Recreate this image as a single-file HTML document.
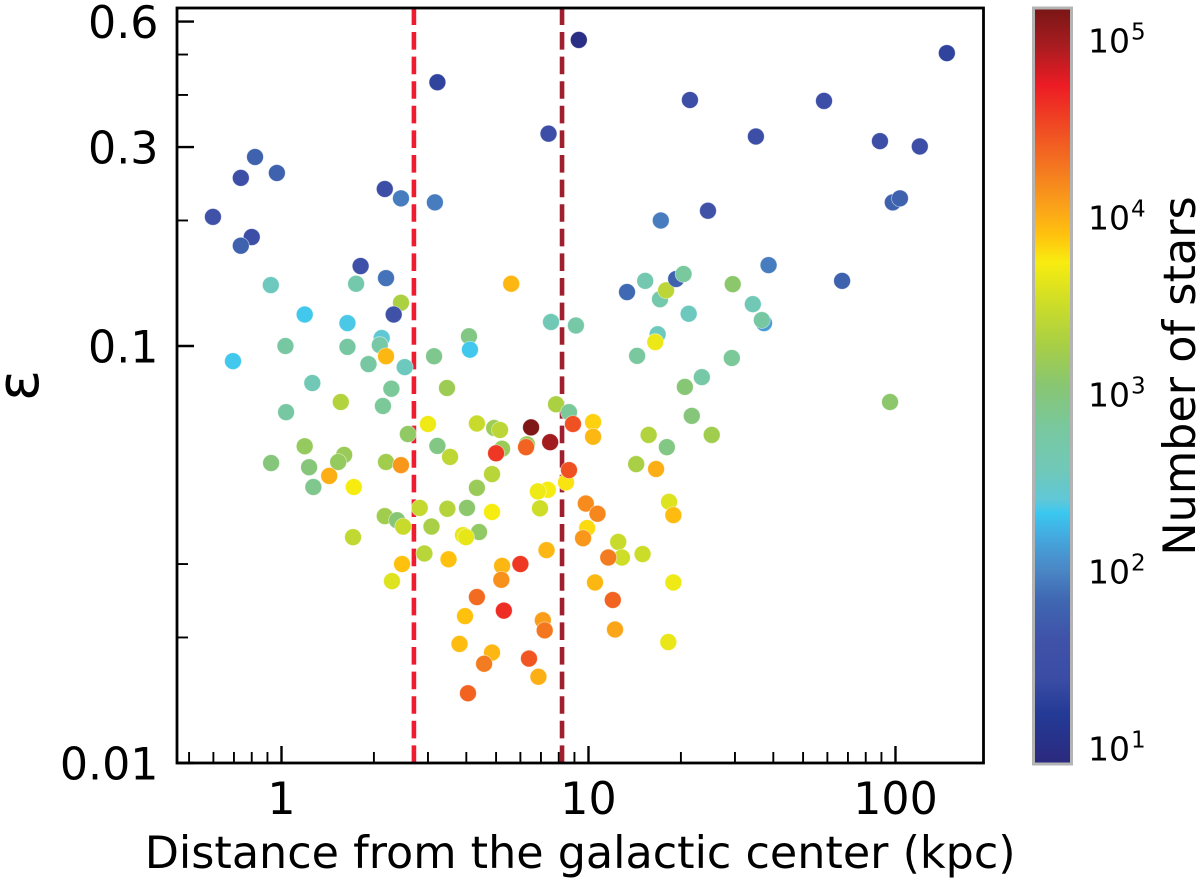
<!DOCTYPE html>
<html lang="en">
<head>
<meta charset="utf-8">
<title>Epsilon vs distance from the galactic center</title>
<style>
html,body{margin:0;padding:0;background:#fff;width:1200px;height:882px;overflow:hidden}
svg{display:block}
text{font-family:"DejaVu Sans","Liberation Sans",sans-serif;fill:#000}
</style>
</head>
<body>
<svg id="chart" width="1200" height="882" viewBox="0 0 1200 882" xmlns="http://www.w3.org/2000/svg">
  <defs>
    <linearGradient id="cbar-gradient" x1="0" y1="1" x2="0" y2="0"></linearGradient>
  </defs>
  <rect x="0" y="0" width="1200" height="882" fill="#ffffff"/>
  <g id="ref-lines"></g>
  <g id="points"></g>
  <g id="ticks"></g>
  <rect x="177" y="8" width="806.5" height="755" fill="none" stroke="#000" stroke-width="2.8"/>
  <g id="tick-labels"></g>
  <text x="144.7" y="868" font-size="44.45">Distance from the galactic center (kpc)</text>
  <text x="0" y="0" font-size="58" text-anchor="middle" transform="translate(38 385.5) rotate(-90)">ε</text>
  <rect x="1033.5" y="8" width="38" height="756" fill="none" stroke="#b4b4b4" stroke-width="3"/>
  <rect x="1035" y="9.5" width="35" height="753" fill="url(#cbar-gradient)"/>
  <g id="cbar-labels"></g>
  <text x="0" y="0" font-size="44.5" text-anchor="middle" transform="translate(1195 376) rotate(-90)">Number of stars</text>
</svg>
<script>
// ---- data ----
const distanceKpc = [9.3,3.22,147,21.4,58.5,7.41,35.1,89,120,0.82,0.737,0.966,0.598,0.8,0.737,2.17,2.45,3.16,24.5,17.2,98,103.4,1.81,2.19,0.923,1.75,5.6,2.45,2.32,1.19,1.64,2.12,2.09,2.19,1.64,1.03,1.92,2.52,3.14,4.08,4.11,1.26,2.28,3.46,1.56,2.14,1.035,7.84,8.64,8.9,3.0,4.33,4.93,5.15,2.58,6.5,7.5,6.3,6.26,3.22,5.23,5.0,3.54,1.19,1.6,1.53,1.23,1.43,2.19,2.45,1.27,1.72,4.85,4.33,8.45,8.64,7.37,6.84,6.95,2.82,3.47,4.02,4.85,2.17,2.38,2.49,3.08,4.4,3.9,3.99,1.71,2.92,3.5,2.47,5.23,6.0,7.3,9.8,10.7,9.9,9.6,10.35,10.35,15.7,18,14.3,16.6,18.3,18.9,21.7,25.2,20.6,23.4,29.3,14.4,16.8,16.5,37.3,36.7,7.55,9.1,12.5,12.85,15,11.6,2.29,5.2,4.33,3.96,5.3,7.1,7.2,3.8,4.85,4.57,6.4,6.87,4.05,10.5,18.9,12,12.2,18.2,13.35,15.3,17.1,17.9,19.3,20.4,21.2,29.5,34.3,38.6,67,96,0.925,0.695];
const epsilon = [0.542,0.429,0.504,0.389,0.387,0.323,0.318,0.31,0.301,0.284,0.253,0.26,0.204,0.1825,0.174,0.238,0.226,0.221,0.211,0.2,0.221,0.226,0.1555,0.1455,0.14,0.141,0.141,0.127,0.119,0.119,0.1135,0.1045,0.1005,0.0945,0.0995,0.1,0.0905,0.089,0.0945,0.1055,0.098,0.0815,0.079,0.0793,0.0734,0.0718,0.0694,0.0725,0.0694,0.065,0.065,0.0652,0.0636,0.0629,0.0615,0.0638,0.0588,0.0581,0.0572,0.0576,0.0567,0.0553,0.0542,0.0575,0.0548,0.0527,0.0512,0.0488,0.0527,0.0518,0.0459,0.0459,0.0493,0.0457,0.0471,0.0504,0.0452,0.0448,0.0408,0.0409,0.0407,0.0409,0.04,0.0391,0.0382,0.0369,0.0369,0.0358,0.0352,0.0348,0.0348,0.0318,0.0308,0.03,0.0297,0.03,0.0324,0.0419,0.0396,0.0366,0.0346,0.0657,0.0606,0.0612,0.0572,0.0521,0.0507,0.0423,0.0393,0.068,0.0612,0.0798,0.0842,0.0936,0.0947,0.1067,0.1022,0.1135,0.1154,0.1142,0.112,0.0339,0.0311,0.0317,0.0311,0.0273,0.0275,0.025,0.0225,0.0232,0.022,0.0208,0.0193,0.0184,0.0173,0.0178,0.0161,0.0147,0.0271,0.0271,0.0246,0.0209,0.0195,0.1347,0.1433,0.1295,0.136,0.1448,0.1488,0.1195,0.1407,0.126,0.1563,0.1433,0.0734,0.0524,0.092];
const numberOfStars = [10,20,20,30,30,30,30,30,30,60,30,60,40,30,60,30,90,90,40,90,60,60,35,80,350,500,9000,2000,40,220,230,260,550,9000,600,600,600,350,800,900,220,400,700,1600,2200,700,600,2000,700,30000,5000,3000,1600,2500,1300,140000,100000,1500,24000,900,1500,40000,2600,1400,1500,1400,1000,10000,1700,13000,800,5500,2400,1500,6000,30000,5500,5000,3300,2800,2300,1200,5500,1700,1100,3000,1900,1300,4500,4500,2700,2400,8000,8000,9000,40000,9000,15000,16000,6500,13000,7000,9000,2200,900,1900,10000,4000,8500,1000,1700,1100,550,700,650,350,4800,130,600,400,550,3000,3300,3200,18000,4000,14000,22000,8000,45000,12000,19000,8500,9000,18000,28000,10000,24000,9000,5000,24000,11000,4600,70,450,500,2500,60,650,350,1200,400,90,60,1200,1000,220];
const referenceDistances = [2.7, 8.2];
const referenceColors = ["#ee1c2e", "#a01f2e"];
const xMajorTicks = [1, 10, 100];
const xMinorTicks = [0.5,0.6,0.7,0.8,0.9,2,3,4,5,6,7,8,9,20,30,40,50,60,70,80,90];
const xTickLabels = ["1", "10", "100"];
const yMajorTicks = [0.6, 0.3, 0.1, 0.01];
const yMinorTicks = [0.5, 0.4, 0.2, 0.03, 0.02];
const yTickLabels = ["0.6", "0.3", "0.1", "0.01"];
const colorbarExponents = [1, 2, 3, 4, 5];
const colormapLogN = [0.92,1.19,1.385,1.61,1.835,2.0,2.175,2.33,2.4,2.57,2.8,3.05,3.28,3.53,3.745,3.9,4.07,4.265,4.49,4.745,4.97,5.175];
const colormapHex = ["#2b2a7e","#233a96","#3a4ca4","#3f52a8","#3f67b2","#4a85c4","#45a5dc","#3ac8f0","#5fc8d8","#70c8b8","#78c8a0","#88c672","#a8cf45","#d0de26","#f8ec10","#ffc20e","#faa01a","#f47a20","#f04e23","#ed1c24","#a81c20","#7a1616"];

// ---- scales ----
const SVGNS = "http://www.w3.org/2000/svg";
const plotLeft = 177, plotRight = 983.5, plotTop = 8, plotBottom = 763;
const xMin = 0.4567, xMax = 193.5, yMin = 0.01, yMax = 0.6465;
function xScale(v) {
  return plotLeft + (Math.log10(v) - Math.log10(xMin)) / (Math.log10(xMax) - Math.log10(xMin)) * (plotRight - plotLeft);
}
function yScale(v) {
  return plotBottom - (Math.log10(v) - Math.log10(yMin)) / (Math.log10(yMax) - Math.log10(yMin)) * (plotBottom - plotTop);
}
const cbarTop = 9.5, cbarBottom = 762.5, cbarLogMin = 0.92, cbarLogMax = 5.175;
function cbarY(exp) {
  return cbarBottom - (exp - cbarLogMin) / (cbarLogMax - cbarLogMin) * (cbarBottom - cbarTop);
}
function hexToRgb(h) {
  return [parseInt(h.slice(1,3),16), parseInt(h.slice(3,5),16), parseInt(h.slice(5,7),16)];
}
function colorFor(n) {
  const l = Math.max(colormapLogN[0], Math.min(colormapLogN[colormapLogN.length-1], Math.log10(n)));
  let i = 0;
  while (i < colormapLogN.length - 2 && l > colormapLogN[i+1]) i++;
  const t = (l - colormapLogN[i]) / (colormapLogN[i+1] - colormapLogN[i]);
  const a = hexToRgb(colormapHex[i]), b = hexToRgb(colormapHex[i+1]);
  return "rgb(" + a.map((c, k) => Math.round(c + (b[k] - c) * t)).join(",") + ")";
}

// ---- colorbar gradient ----
const grad = document.getElementById("cbar-gradient");
colormapLogN.forEach((l, i) => {
  const s = document.createElementNS(SVGNS, "stop");
  s.setAttribute("offset", (l - cbarLogMin) / (cbarLogMax - cbarLogMin));
  s.setAttribute("stop-color", colormapHex[i]);
  grad.appendChild(s);
});

// ---- reference lines ----
const refGroup = document.getElementById("ref-lines");
referenceDistances.forEach((d, i) => {
  const line = document.createElementNS(SVGNS, "line");
  
  
  line.setAttribute("x1", xScale(d));
  line.setAttribute("x2", xScale(d));
  line.setAttribute("y1", plotBottom);
  line.setAttribute("y2", plotTop);
  line.setAttribute("stroke", referenceColors[i]);
  line.setAttribute("stroke-width", "4.6");
  line.setAttribute("stroke-dasharray", "17.6 7");
  refGroup.appendChild(line);
});

// ---- points ----
const pointGroup = document.getElementById("points");
distanceKpc.forEach((d, i) => {
  const c = document.createElementNS(SVGNS, "circle");
  
  
  c.setAttribute("cx", xScale(d));
  c.setAttribute("cy", yScale(epsilon[i]));
  c.setAttribute("r", "8.4");
  c.setAttribute("fill", colorFor(numberOfStars[i]));
  c.setAttribute("stroke", "#ffffff");
  c.setAttribute("stroke-opacity", "0.5");
  c.setAttribute("stroke-width", "0.8");
  pointGroup.appendChild(c);
});

// ---- ticks ----
const tickGroup = document.getElementById("ticks");
function addXTick(v, len, w) {
  const t = document.createElementNS(SVGNS, "line");
  
  
  t.setAttribute("x1", xScale(v));
  t.setAttribute("x2", xScale(v));
  t.setAttribute("y1", plotBottom);
  t.setAttribute("y2", plotBottom - len);
  t.setAttribute("stroke", "#000");
  t.setAttribute("stroke-width", w);
  tickGroup.appendChild(t);
}
function addYTick(v, len, w) {
  const t = document.createElementNS(SVGNS, "line");
  
  
  t.setAttribute("x1", plotLeft);
  t.setAttribute("x2", plotLeft + len);
  t.setAttribute("y1", yScale(v));
  t.setAttribute("y2", yScale(v));
  t.setAttribute("stroke", "#000");
  t.setAttribute("stroke-width", w);
  tickGroup.appendChild(t);
}
xMajorTicks.forEach(v => addXTick(v, 17, 2.4));
xMinorTicks.forEach(v => addXTick(v, 11, 1.9));
yMajorTicks.forEach(v => addYTick(v, 17, 2.4));
yMinorTicks.forEach(v => addYTick(v, 11, 1.9));

// ---- tick labels ----
const labelGroup = document.getElementById("tick-labels");
xMajorTicks.forEach((v, i) => {
  const t = document.createElementNS(SVGNS, "text");
  
  
  t.setAttribute("x", xScale(v));
  t.setAttribute("y", 814);
  t.setAttribute("font-size", "44.3");
  t.setAttribute("text-anchor", "middle");
  t.textContent = xTickLabels[i];
  labelGroup.appendChild(t);
});
yMajorTicks.forEach((v, i) => {
  const t = document.createElementNS(SVGNS, "text");
  
  
  t.setAttribute("x", 158.5);
  t.setAttribute("y", yScale(v) + 16.5);
  t.setAttribute("font-size", "44.3");
  t.setAttribute("text-anchor", "end");
  t.textContent = yTickLabels[i];
  labelGroup.appendChild(t);
});

// ---- colorbar labels ----
const cbarGroup = document.getElementById("cbar-labels");
colorbarExponents.forEach(e => {
  const t = document.createElementNS(SVGNS, "text");
  
  
  t.setAttribute("x", 1088);
  t.setAttribute("y", cbarY(e) + 12);
  t.setAttribute("font-size", "33");
  const base = document.createElementNS(SVGNS, "tspan");
  base.textContent = "10";
  const sup = document.createElementNS(SVGNS, "tspan");
  sup.setAttribute("font-size", "23");
  sup.setAttribute("dy", "-13");
  sup.setAttribute("dx", "1");
  sup.textContent = String(e);
  t.appendChild(base);
  t.appendChild(sup);
  cbarGroup.appendChild(t);
});
</script>
</body>
</html>
